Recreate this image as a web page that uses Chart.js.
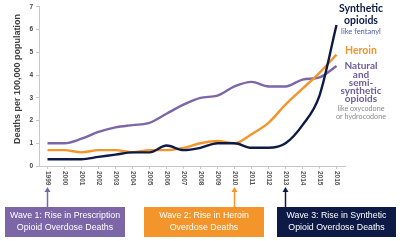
<!DOCTYPE html>
<html>
<head>
<meta charset="utf-8">
<script src="https://cdn.jsdelivr.net/npm/chart.js@4/dist/chart.umd.min.js"></script>
<style>
  html, body { margin: 0; padding: 0; background: #fff; }
  #wrap { width: 400px; height: 241px; position: relative; }
</style>
</head>
<body>
<div id="wrap"><canvas id="chart" width="400" height="241"></canvas></div>
<script>
// anos e taxas (mortes por 100.000)
const years = ["1999", "2000", "2001", "2002", "2003", "2004", "2005", "2006", "2007",
  "2008", "2009", "2010", "2011", "2012", "2013", "2014", "2015", "2016"];
const synthetic = [0.3, 0.3, 0.3, 0.4, 0.5, 0.6, 0.6, 0.9, 0.7, 0.8, 1.0, 1.0, 0.8, 0.8, 1.0, 1.8, 3.1, 6.2];
const heroin = [0.7, 0.7, 0.6, 0.7, 0.7, 0.6, 0.7, 0.7, 0.8, 1.0, 1.1, 1.0, 1.4, 1.9, 2.7, 3.4, 4.1, 4.9];
const natural = [1.0, 1.0, 1.2, 1.5, 1.7, 1.8, 1.9, 2.3, 2.7, 3.0, 3.1, 3.5, 3.7, 3.5, 3.5, 3.8, 3.9, 4.4];
const yTicks = [0, 1, 2, 3, 4, 5, 6, 7];

// ondas: texto, ano da seta
const waveText = [
  ["Wave 1: Rise in Prescription", "Opioid Overdose Deaths"],
  ["Wave 2: Rise in Heroin", "Overdose Deaths"],
  ["Wave 3: Rise in Synthetic", "Opioid Overdose Deaths"]
];
const waveYears = ["1999", "2010", "2013"];

const NAVY = "#0d1a45";
const ORANGE = "#f3952b";
const PURPLE = "#7c66a8";

/**
 * Desenha rótulos, caixas e setas
 */
const extras = {
  id: "extras",
  afterDraw(chart) {
    const ctx = chart.ctx;
    const x = chart.scales.x;
    const y = chart.scales.y;
    ctx.save();

    // título do eixo y
    ctx.save();
    ctx.translate(18, 79);
    ctx.rotate(-Math.PI / 2);
    ctx.fillStyle = "#404040";
    ctx.font = "bold 9px Arial, 'Liberation Sans', sans-serif";
    ctx.textAlign = "center";
    ctx.textBaseline = "middle";
    ctx.fillText("Deaths per 100,000 population", 0, 0);
    ctx.restore();

    // anos girados (leitura de cima para baixo)
    ctx.fillStyle = "#555555";
    ctx.font = "bold 6.5px Arial, 'Liberation Sans', sans-serif";
    years.forEach((yr, i) => {
      const px = x.getPixelForValue(i);
      ctx.save();
      ctx.translate(px, y.bottom + 5);
      ctx.rotate(Math.PI / 2);
      ctx.textAlign = "left";
      ctx.textBaseline = "middle";
      ctx.fillText(yr, 0, 0);
      ctx.restore();
    });

    // rótulos à direita
    ctx.textAlign = "center";
    ctx.textBaseline = "middle";
    const cx = 361;
    ctx.fillStyle = NAVY;
    ctx.font = "bold 10.5px Lato, 'Open Sans', sans-serif";
    ctx.fillText("Synthetic", cx, 9);
    ctx.fillText("opioids", cx, 21);
    ctx.fillStyle = "#4a60a8";
    ctx.font = "7.5px Lato, sans-serif";
    ctx.fillText("like fentanyl", cx, 32);
    ctx.fillStyle = ORANGE;
    ctx.font = "bold 10.5px Lato, sans-serif";
    ctx.fillText("Heroin", cx, 51);
    ctx.fillStyle = "#6d5c98";
    ctx.font = "bold 10px Lato, sans-serif";
    ["Natural", "and", "semi-", "synthetic", "opioids"].forEach((t, i) => {
      ctx.fillText(t, cx, 66 + i * 8.3);
    });
    ctx.fillStyle = "#8a8a8a";
    ctx.font = "7.2px Lato, sans-serif";
    ctx.fillText("like oxycodone", cx, 109);
    ctx.fillText("or hydrocodone", cx, 117);

    // caixas das ondas
    const boxes = [[5, 120, PURPLE], [144, 120, ORANGE], [277, 119, NAVY]];
    boxes.forEach((b, i) => {
      const ax = x.getPixelForValue(years.indexOf(waveYears[i]));
      ctx.strokeStyle = b[2];
      ctx.fillStyle = b[2];
      ctx.lineWidth = 1.5;
      ctx.beginPath();
      ctx.moveTo(ax, 207);
      ctx.lineTo(ax, 191);
      ctx.stroke();
      ctx.beginPath();
      ctx.moveTo(ax - 3, 192);
      ctx.lineTo(ax, 187);
      ctx.lineTo(ax + 3, 192);
      ctx.closePath();
      ctx.fill();

      ctx.fillRect(b[0], 207, b[1], 30);
      ctx.fillStyle = "#ffffff";
      ctx.font = "8.8px Arial, 'Liberation Sans', sans-serif";
      ctx.fillText(waveText[i][0], b[0] + b[1] / 2, 216);
      ctx.fillText(waveText[i][1], b[0] + b[1] / 2, 228);
    });

    ctx.restore();
  }
};

function initChart() {
  const ctx = document.getElementById("chart").getContext("2d");
  new Chart(ctx, {
    type: "line",
    data: {
      labels: years,
      datasets: [
        { label: "Synthetic", data: synthetic, borderColor: NAVY },
        { label: "Heroin", data: heroin, borderColor: ORANGE },
        { label: "Natural", data: natural, borderColor: PURPLE }
      ].map(d => Object.assign(d, {
        borderWidth: 2.4,
        pointRadius: 0,
        fill: false,
        tension: 0.3,
        cubicInterpolationMode: "monotone"
      }))
    },
    options: {
      responsive: false,
      animation: false,
      layout: { padding: { top: 4, right: 55, left: 0, bottom: 0 } },
      plugins: { legend: { display: false }, tooltip: { enabled: false } },
      scales: {
        x: {
          offset: true,
          grid: { drawOnChartArea: false, color: "#c8c8c8", tickLength: 3 },
          border: { color: "#c8c8c8" },
          ticks: { display: false },
          afterFit(s) { s.height = 75; }
        },
        y: {
          min: 0,
          max: 7,
          afterBuildTicks(s) { s.ticks = yTicks.map(v => ({ value: v })); },
          grid: { drawOnChartArea: false, color: "#c8c8c8", tickLength: 3 },
          border: { color: "#c8c8c8" },
          ticks: {
            color: "#404040",
            padding: 3,
            font: { size: 6.5, weight: "bold", family: "Arial, 'Liberation Sans', sans-serif" }
          },
          afterFit(s) { s.width = 39; }
        }
      }
    },
    plugins: [extras]
  });
}

window.onload = () => {
  initChart();
};
</script>
</body>
</html>
